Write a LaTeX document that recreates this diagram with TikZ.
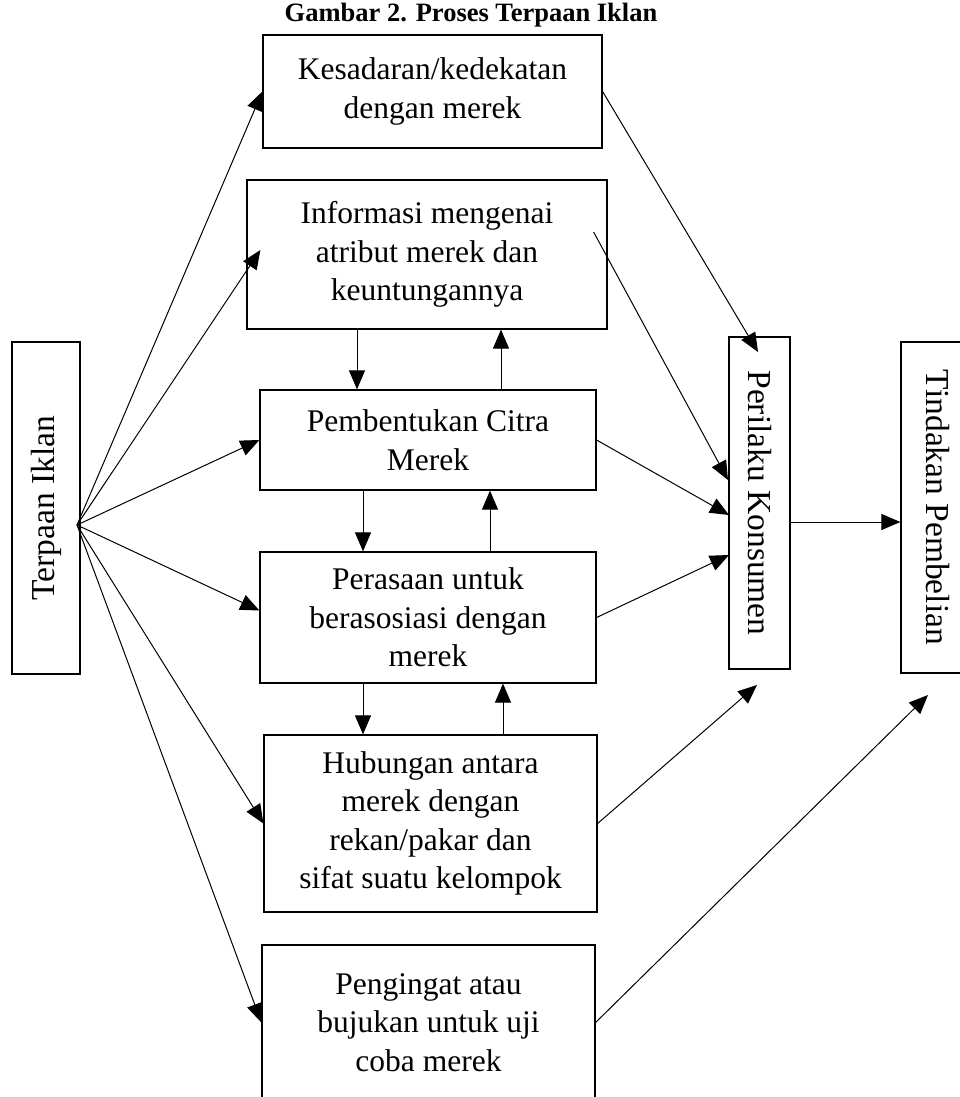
\documentclass[tikz,border=0pt]{standalone}
\usepackage{fontspec}
\setmainfont{Liberation Serif}
\usetikzlibrary{arrows.meta}

\begin{document}
\begin{tikzpicture}[x=1pt,y=-1pt,->,>={Triangle[length=19pt,width=16pt]},line width=1pt,
    box node/.style={draw,-,line width=1.2pt,inner sep=0pt,align=center,font=\fontsize{31.5}{38.5}\selectfont},
    side node/.style={draw,-,line width=1.2pt,inner sep=0pt,font=\fontsize{33.5}{37}\selectfont}]
  \useasboundingbox (0,0) rectangle (959,1097);
  \node[font=\bfseries\fontsize{26.5}{28}\selectfont] (title) at (471,15) {Gambar 2. Proses Terpaan Iklan};
  % kotak tengah
  \node[box node,minimum width=339pt,minimum height=113pt] (kes) at (432.5,91.5) {Kesadaran/kedekatan\\dengan merek};
  \node[box node,minimum width=360pt,minimum height=149pt] (info) at (427,254.5) {Informasi mengenai\\atribut merek dan\\keuntungannya};
  \node[box node,minimum width=336pt,minimum height=100pt] (citra) at (428,440) {Pembentukan Citra\\Merek};
  \node[box node,minimum width=336pt,minimum height=131pt] (rasa) at (428,617.5) {Perasaan untuk\\berasosiasi dengan\\merek};
  \node[box node,minimum width=333pt,minimum height=177pt] (hub) at (430.5,823.5) {Hubungan antara\\merek dengan\\rekan/pakar dan\\sifat suatu kelompok};
  \node[box node,minimum width=333pt,minimum height=155pt] (ingat) at (428.5,1022.5) {Pengingat atau\\bujukan untuk uji\\coba merek};
  % kotak tegak
  \node[side node,rotate=90,minimum width=332pt,minimum height=68pt] (terpaan) at (46,508) {Terpaan Iklan};
  \node[side node,rotate=-90,minimum width=332pt,minimum height=61pt] (perilaku) at (759.5,503) {Perilaku Konsumen};
  \node[side node,rotate=-90,minimum width=331pt,minimum height=74pt] (tindakan) at (938,507.5) {Tindakan Pembelian};
  \coordinate (o) at (77,525);
  \coordinate (p1) at (758,352);
  \coordinate (p2) at (728,480);
  \coordinate (p3) at (729,515);
  \coordinate (p4) at (729,555);
  \coordinate (p5) at (757,685);
  \coordinate (t1) at (928,695);
  \coordinate (pout) at ([yshift=-19pt]perilaku.north);
  % dari terpaan iklan
  \path (o) edge (kes.west);
  \path (o) edge ([xshift=14pt,yshift=4.5pt]info.west);
  \path (o) edge (citra.west);
  \path (o) edge ([yshift=7pt]rasa.west);
  \path (o) edge (hub.west);
  \path (o) edge (ingat.west);
  % antar kotak
  \path ([xshift=-70pt]info.south) edge ([xshift=-71pt]citra.north);
  \path ([xshift=73pt]citra.north) edge ([xshift=74pt]info.south);
  \path ([xshift=-65pt]citra.south) edge ([xshift=-65pt]rasa.north);
  \path ([xshift=62pt]rasa.north) edge ([xshift=62pt]citra.south);
  \path ([xshift=-65pt]rasa.south) edge ([xshift=-67.5pt]hub.north);
  \path ([xshift=72.5pt]hub.north) edge ([xshift=75pt]rasa.south);
  % ke perilaku konsumen
  \path (kes.east) edge (p1);
  \path ([xshift=-14pt,yshift=22.5pt]info.east) edge (p2);
  \path (citra.east) edge (p3);
  \path (rasa.east) edge (p4);
  \path (hub.east) edge (p5);
  \path (ingat.east) edge (t1);
  \path (pout) edge (pout -| tindakan.south);
\end{tikzpicture}
\end{document}
